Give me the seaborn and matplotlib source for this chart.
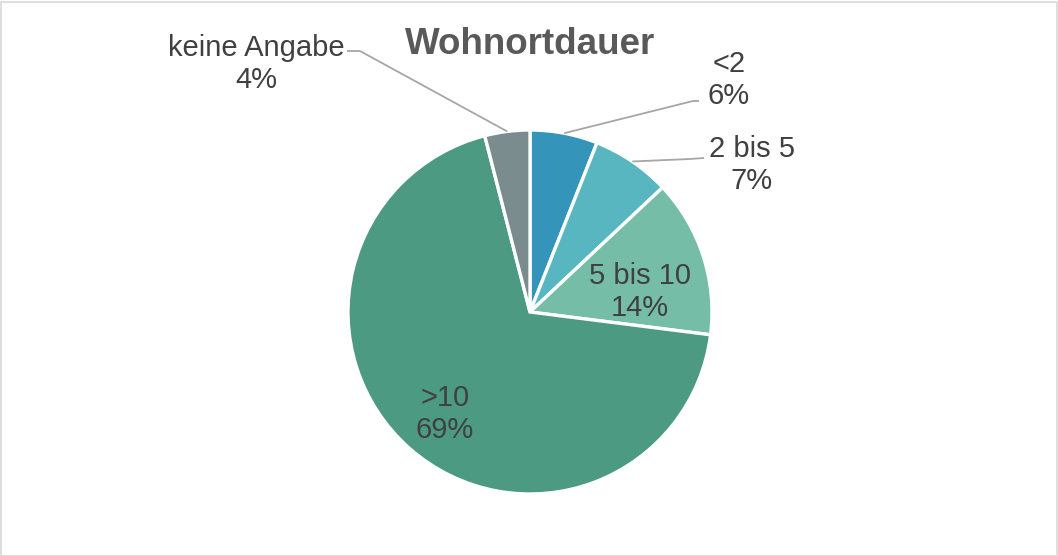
import numpy as np
import matplotlib
matplotlib.use("Agg")
import matplotlib.pyplot as plt
import seaborn as sns

categories = ["<2", "2 bis 5", "5 bis 10", ">10", "keine Angabe"]
values = [6, 7, 14, 69, 4]
colors = ["#3494BA", "#58B6C0", "#75BDA7", "#4C9A81", "#7A8C8E"]
title = "Wohnortdauer"

sns.set_theme(style="white")
plt.rcParams["font.family"] = ["Liberation Sans", "DejaVu Sans"]

W, H = 1058, 556
CX, CY, R = 530, 312, 182

fig = plt.figure(figsize=(W / 100, H / 100), dpi=100)
ax = fig.add_axes([0, 0, 1, 1])

def px(x, y):
    return ((x - CX) / R, (CY - y) / R)

wedges, _ = ax.pie(values, colors=colors, startangle=90, counterclock=False,
                   radius=1, center=(0, 0),
                   wedgeprops=dict(edgecolor="white", linewidth=2.4))
ax.set_xlim((0 - CX) / R, (W - CX) / R)
ax.set_ylim((CY - H) / R, CY / R)
ax.set_aspect("auto")
ax.axis("off")

total = sum(values)
txt = "#404040"
fs = 21
pcts = [f"{v / total * 100:.0f}%" for v in values]

def anchor(i):
    w = wedges[i]
    a = np.deg2rad((w.theta1 + w.theta2) / 2)
    return (np.cos(a), np.sin(a))

lc = "#A6A6A6"
# leader lines: (elbow, end) in pixel layout
leaders = {0: [(693, 101), (699, 101)], 1: [(690, 159), (704, 158)],
           4: [(360, 51), (347, 51)]}
for i, (elbow, end) in leaders.items():
    a = anchor(i)
    e1, e2 = px(*elbow), px(*end)
    ax.plot([a[0], e1[0], e2[0]], [a[1], e1[1], e2[1]], color=lc, lw=1.3,
            solid_capstyle="butt")

label_pos = {0: (729, 80), 1: (752, 165), 2: (640, 292), 3: (445, 414), 4: (256, 64)}
for i, (x, y) in label_pos.items():
    ax.text(*px(x, y), f"{categories[i]}\n{pcts[i]}", ha="center", va="center",
            fontsize=fs, color=txt, linespacing=1.2)

ax.text(*px(530, 45), title, ha="center", va="center", fontsize=26.5,
        fontweight="bold", color="#595959")

fig.patches.append(plt.Rectangle((0.5 / W, 0.5 / H), 1 - 2 / W, 1 - 2 / H,
                                 transform=fig.transFigure, fill=False,
                                 edgecolor="#D9D9D9", lw=1.2))

fig.savefig("out.png", dpi=100, facecolor="white")
